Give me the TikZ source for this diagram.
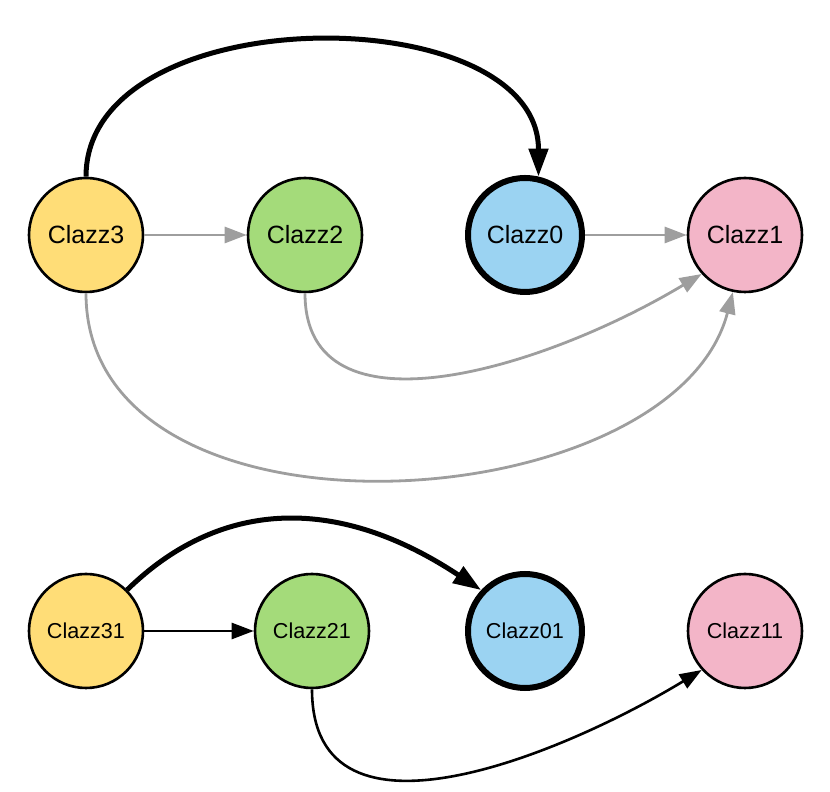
\documentclass[tikz,border=0pt]{standalone}
\usepackage{fontspec}
\setmainfont{Liberation Sans}
\usepackage{tikz}
\usetikzlibrary{arrows.meta,calc}
\definecolor{Ink}{HTML}{000000}
\definecolor{FillYellow}{HTML}{FFDD77}
\definecolor{FillGreen}{HTML}{A4DB7A}
\definecolor{FillBlue}{HTML}{9BD3F2}
\definecolor{FillPink}{HTML}{F3B5C8}
\definecolor{EdgeGray}{HTML}{9E9E9E}
\tikzset{
  clazz/.style={
    circle,
    draw=Ink,
    line width=1.3pt,
    inner sep=0pt,
    minimum size=57pt,
    text=Ink
  },
  clazzbold/.style={clazz, line width=3pt},
  bigfont/.style={font=\fontsize{12.5}{15}\selectfont},
  smallfont/.style={font=\fontsize{10.8}{13}\selectfont},
  softedge/.style={
    draw=EdgeGray,
    line width=1.4pt,
    -{Triangle[length=11pt,width=8pt]}
  },
  thinedge/.style={
    draw=Ink,
    line width=1.3pt,
    -{Triangle[length=11pt,width=8pt]}
  },
  heavyedge/.style={
    draw=Ink,
    line width=2.5pt,
    -{Triangle[length=14pt,width=9.5pt]}
  }
}

\begin{document}
\begin{tikzpicture}[x=0.5pt,y=0.5pt]
        \useasboundingbox (0,0) rectangle (830,792);
        % upper graph
        \node[clazz, bigfont, fill=FillYellow] (clazzthree) at (86,557) {Clazz3};
        \node[clazz, bigfont, fill=FillGreen] (clazztwo) at (305,557) {Clazz2};
        \node[clazzbold, bigfont, fill=FillBlue] (clazzzero) at (525,557) {Clazz0};
        \node[clazz, bigfont, fill=FillPink] (clazzone) at (745,557) {Clazz1};
        \draw[heavyedge] (clazzthree.north) .. controls +(0,180) and +(0,180) .. (clazzzero.77);
        \draw[softedge] (clazzthree.east) -- (clazztwo.west);
        \draw[softedge] (clazzzero.east) -- (clazzone.west);
        \draw[softedge] (clazztwo.south) .. controls +(0,-148) and +(-160,-96) .. (clazzone.222);
        \draw[softedge] (clazzthree.south) .. controls +(0,-266) and +(-60,-230) .. (clazzone.258);
        % lower graph
        \node[clazz, smallfont, fill=FillYellow] (clazzthreeone) at (86,161) {Clazz31};
        \node[clazz, smallfont, fill=FillGreen] (clazztwoone) at (312,161) {Clazz21};
        \node[clazzbold, smallfont, fill=FillBlue] (clazzzeroone) at (525,161) {Clazz01};
        \node[clazz, smallfont, fill=FillPink] (clazzoneone) at (745,161) {Clazz11};
        \draw[heavyedge] (clazzthreeone.45) .. controls +(90,88) and +(-148,98) .. (clazzzeroone.137);
        \draw[thinedge] (clazzthreeone.east) -- (clazztwoone.west);
        \draw[thinedge] (clazztwoone.south) .. controls +(0,-172) and +(-133,-81) .. (clazzoneone.222);
      \end{tikzpicture}
\end{document}
